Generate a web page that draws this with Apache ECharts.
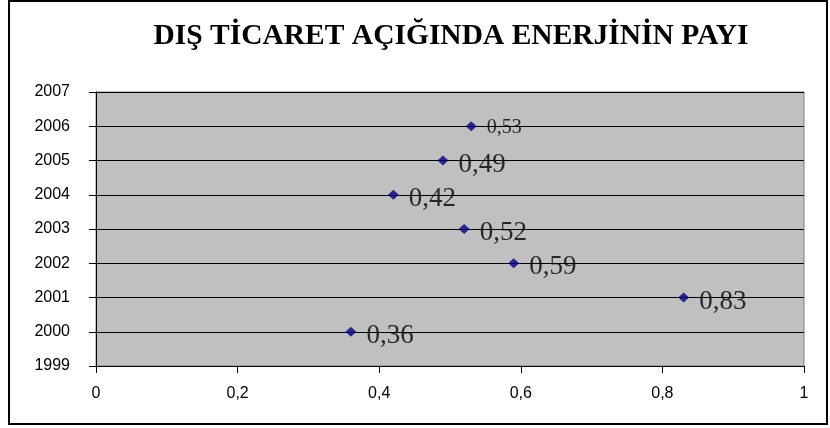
<!DOCTYPE html>
<html><head><meta charset="utf-8">
<script src="https://cdn.jsdelivr.net/npm/echarts@6/dist/echarts.min.js"></script>
<style>html,body{margin:0;padding:0;background:#fff}#c{width:830px;height:428px}</style>
</head><body><div id="c"></div>
<script>
const years = [2000, 2001, 2002, 2003, 2004, 2005, 2006];
const shares = [0.36, 0.83, 0.59, 0.52, 0.42, 0.49, 0.53];
const labelSizes = [27, 27, 27, 27, 27, 27, 20];
const titleText = 'DIŞ TİCARET AÇIĞINDA ENERJİNİN PAYI';

const chart = echarts.init(document.getElementById('c'), null, {renderer: 'canvas'});
const data = years.map((y, i) => ({
  value: [shares[i], y],
  label: {fontSize: labelSizes[i], offset: labelSizes[i] > 24 ? [0, 4] : [0, 1]}
}));
chart.setOption({
  animation: false,
  backgroundColor: '#fff',
  title: {
    text: titleText, left: 446, top: 16, textAlign: 'center',
    textStyle: {fontFamily: 'Liberation Serif', fontWeight: 'bold', fontSize: 29.5, color: '#000'}
  },
  graphic: [{type: 'rect', shape: {x: 9, y: 1, width: 818, height: 423},
    style: {fill: 'none', stroke: '#000', lineWidth: 2}, silent: true}],
  grid: {left: 96, right: 26, top: 92, bottom: 62, show: true, backgroundColor: '#c0c0c0',
    borderColor: '#808080', borderWidth: 1},
  xAxis: {
    type: 'value', min: 0, max: 1, interval: 0.2,
    axisLine: {show: true, onZero: false, lineStyle: {color: '#000'}},
    axisTick: {show: true, length: 7, lineStyle: {color: '#000'}},
    splitLine: {show: false},
    axisLabel: {margin: 20, fontFamily: 'Liberation Sans', fontSize: 16, color: '#000',
      formatter: v => String(+v.toFixed(1)).replace('.', ',')}
  },
  yAxis: {
    type: 'value', min: 1999, max: 2007, interval: 1,
    axisLine: {show: true, onZero: false, lineStyle: {color: '#000'}},
    axisTick: {show: true, length: 7, lineStyle: {color: '#000'}},
    splitLine: {show: true, lineStyle: {color: '#000', width: 1}},
    axisLabel: {margin: 26, fontFamily: 'Liberation Sans', fontSize: 16, color: '#000',
      formatter: v => String(v)}
  },
  series: [{
    type: 'scatter', symbol: 'diamond', symbolSize: [11, 10],
    itemStyle: {color: '#000080'},
    label: {show: true, position: 'right', distance: 10, fontFamily: 'Liberation Serif', color: '#000',
      formatter: p => String(p.value[0]).replace('.', ',')},
    data: data
  }]
});
</script></body></html>
